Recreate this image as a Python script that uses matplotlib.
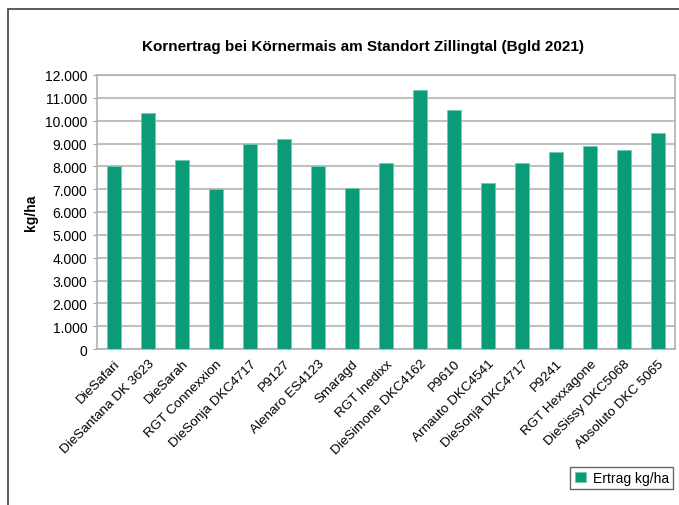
import matplotlib.pyplot as plt
from matplotlib.patches import Rectangle
from matplotlib.ticker import FuncFormatter

plt.rcParams['font.family'] = ['Liberation Sans', 'DejaVu Sans']

sorten = ['DieSafari', 'DieSantana DK 3623', 'DieSarah', 'RGT Connexxion',
          'DieSonja DKC4717', 'P9127', 'Alenaro ES4123', 'Smaragd', 'RGT Inedixx',
          'DieSimone DKC4162', 'P9610', 'Arnauto DKC4541', 'DieSonja DKC4717',
          'P9241', 'RGT Hexxagone', 'DieSissy DKC5068', 'Absoluto DKC 5065']
ertrag = [8000, 10340, 8270, 7000, 8990, 9190, 8000, 7070, 8150,
          11340, 10460, 7270, 8150, 8630, 8880, 8700, 9460]

fig = plt.figure(figsize=(6.79, 5.06), dpi=100)
# outer chart frame (cut off on right and bottom like the source)
fig.patches.append(Rectangle((8/679, -0.1), 1.0, 1 - 10/506 + 0.1,
                             transform=fig.transFigure, fill=False,
                             edgecolor='#404040', linewidth=1.2))

ax = fig.add_axes([97/679, 1 - 350/506, (675 - 97)/679, (350 - 76)/506])
x = range(len(sorten))
ax.bar(x, ertrag, width=0.44, color='#0a9b78', edgecolor='#6fcbb0',
       linewidth=0.6, label='Ertrag kg/ha', zorder=3)

ax.set_ylim(0, 12000)
ax.set_yticks(range(0, 12001, 1000))
ax.yaxis.set_major_formatter(FuncFormatter(lambda v, p: f'{int(v):,}'.replace(',', '.')))
ax.set_xlim(-0.5, len(sorten) - 0.5)
ax.set_xticks(list(x))
ax.set_xticklabels(sorten, rotation=45, ha='right', rotation_mode='anchor', fontsize=9.7)
ax.tick_params(axis='x', length=0, pad=6)
ax.tick_params(axis='y', length=3, color='#a0a0a0', labelsize=10, pad=4)
ax.grid(axis='y', color='#c0c0c0', linewidth=1.5, zorder=0)
for s in ax.spines.values():
    s.set_color('#b0b0b0')
    s.set_linewidth(1.2)

ax.set_ylabel('kg/ha', fontweight='bold', fontsize=10, labelpad=5)
fig.text(363/679, 1 - 47/506, 'Kornertrag bei Körnermais am Standort Zillingtal (Bgld 2021)',
         ha='center', va='center', fontweight='bold', fontsize=11)

ax.legend(loc='lower right', bbox_to_anchor=(673/679, 1 - 490/506),
          bbox_transform=fig.transFigure, frameon=True, fancybox=False,
          edgecolor='#404040', fontsize=10, handlelength=0.8, handleheight=0.8,
          handletextpad=0.5, borderpad=0.3, borderaxespad=0)

fig.savefig('out.png', dpi=100)
